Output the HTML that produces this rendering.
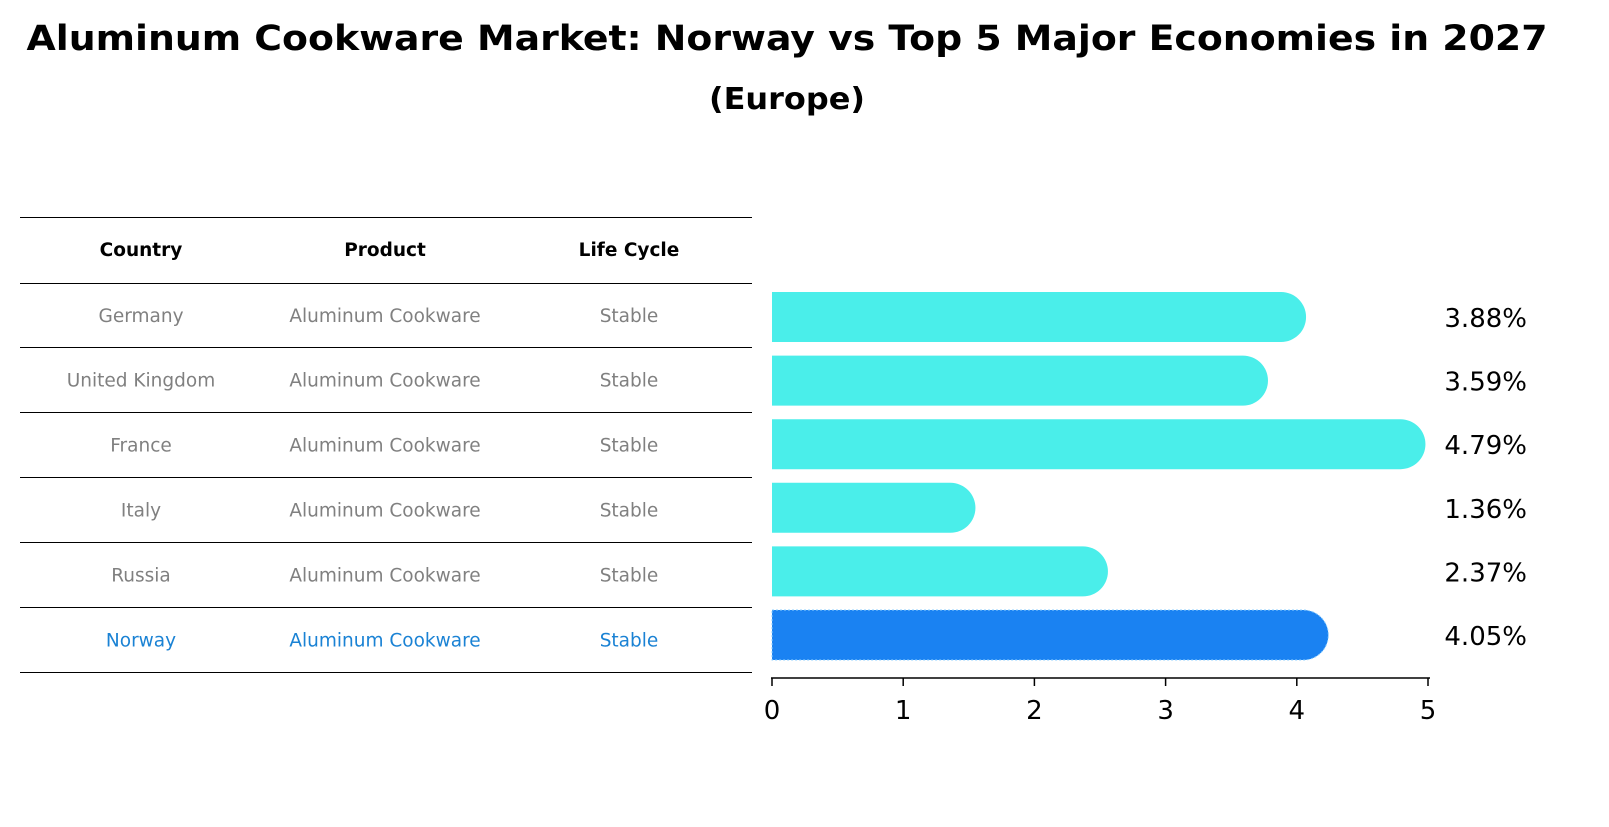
<!DOCTYPE html>
<html><head><meta charset="utf-8"><style>
body{margin:0;background:#fff;font-family:"DejaVu Sans","Liberation Sans",sans-serif;}
svg text{font-family:"DejaVu Sans","Liberation Sans",sans-serif;}
</style></head><body>
<svg width="1609" height="823" viewBox="0 0 1609 823">
<text x="787" y="50" text-anchor="middle" font-size="35" font-weight="bold" textLength="1521" lengthAdjust="spacingAndGlyphs">Aluminum Cookware Market: Norway vs Top 5 Major Economies in 2027</text>
<text x="787" y="109" text-anchor="middle" font-size="30" font-weight="bold" textLength="156" lengthAdjust="spacingAndGlyphs">(Europe)</text>
<g id="table"></g>
<g id="bars"></g>
<g id="axis"></g>
</svg>
<script>
const countries=["Germany","United Kingdom","France","Italy","Russia","Norway"];
const values=[3.88,3.59,4.79,1.36,2.37,4.05];
const valueLabels=["3.88%","3.59%","4.79%","1.36%","2.37%","4.05%"];
const product="Aluminum Cookware";
const lifeCycle="Stable";
const ticks=[0,1,2,3,4,5];
const NS="http://www.w3.org/2000/svg";
function mk(tag,attrs,parent,text){const e=document.createElementNS(NS,tag);for(const k in attrs)e.setAttribute(k,attrs[k]);if(text!==undefined)e.textContent=text;parent.appendChild(e);return e;}
const x=v=>772+v*131.2;
const rowY=i=>317+i*63.6;
const bars=document.getElementById('bars'),axis=document.getElementById('axis'),table=document.getElementById('table');
const lineYs=[217,283,347,412,477,542,607,672];
lineYs.forEach(y=>{const l=mk('line',{x1:20,x2:752,y1:y+0.5,y2:y+0.5,stroke:'#000','stroke-width':1},table);

});
const colX=[141,385,629];
["Country","Product","Life Cycle"].forEach((h,j)=>{const t=mk('text',{x:colX[j],y:256,'text-anchor':'middle','font-size':18.5,'font-weight':'bold'},table,h);

});
countries.forEach((c,i)=>{
 const isN=c==="Norway";const col=isN?'#1a82d4':'#808080';
 const cy=(lineYs[i+1]+lineYs[i+2])/2+7;
 [c,product,lifeCycle].forEach((v,j)=>{const t=mk('text',{x:colX[j],y:cy,'text-anchor':'middle','font-size':18.5,fill:col},table,v);
 
 });
 const y=rowY(i),h=50,r=25,x1=x(values[i]);
 const p=mk('path',{d:`M772 ${y-h/2} H${x1} A${r} ${r} 0 0 1 ${x1} ${y+h/2} H772 Z`,fill:isN?'#1a82f2':'#4aeeea'},bars);
 if(isN){p.setAttribute('stroke','#8fd0ff');p.setAttribute('stroke-dasharray','2 2');p.setAttribute('stroke-width','1');}
 
 
 const t=mk('text',{x:1527,y:y+10,'text-anchor':'end','font-size':26},bars,valueLabels[i]);
 
 
});
const al=mk('line',{x1:771,x2:1430,y1:678,y2:678,stroke:'#000','stroke-width':1.5},axis);


ticks.forEach(v=>{const l=mk('line',{x1:x(v),x2:x(v),y1:678,y2:686,stroke:'#000','stroke-width':1.5},axis);


const t=mk('text',{x:x(v),y:719,'text-anchor':'middle','font-size':26},axis,String(v));

});
</script>
</body></html>
